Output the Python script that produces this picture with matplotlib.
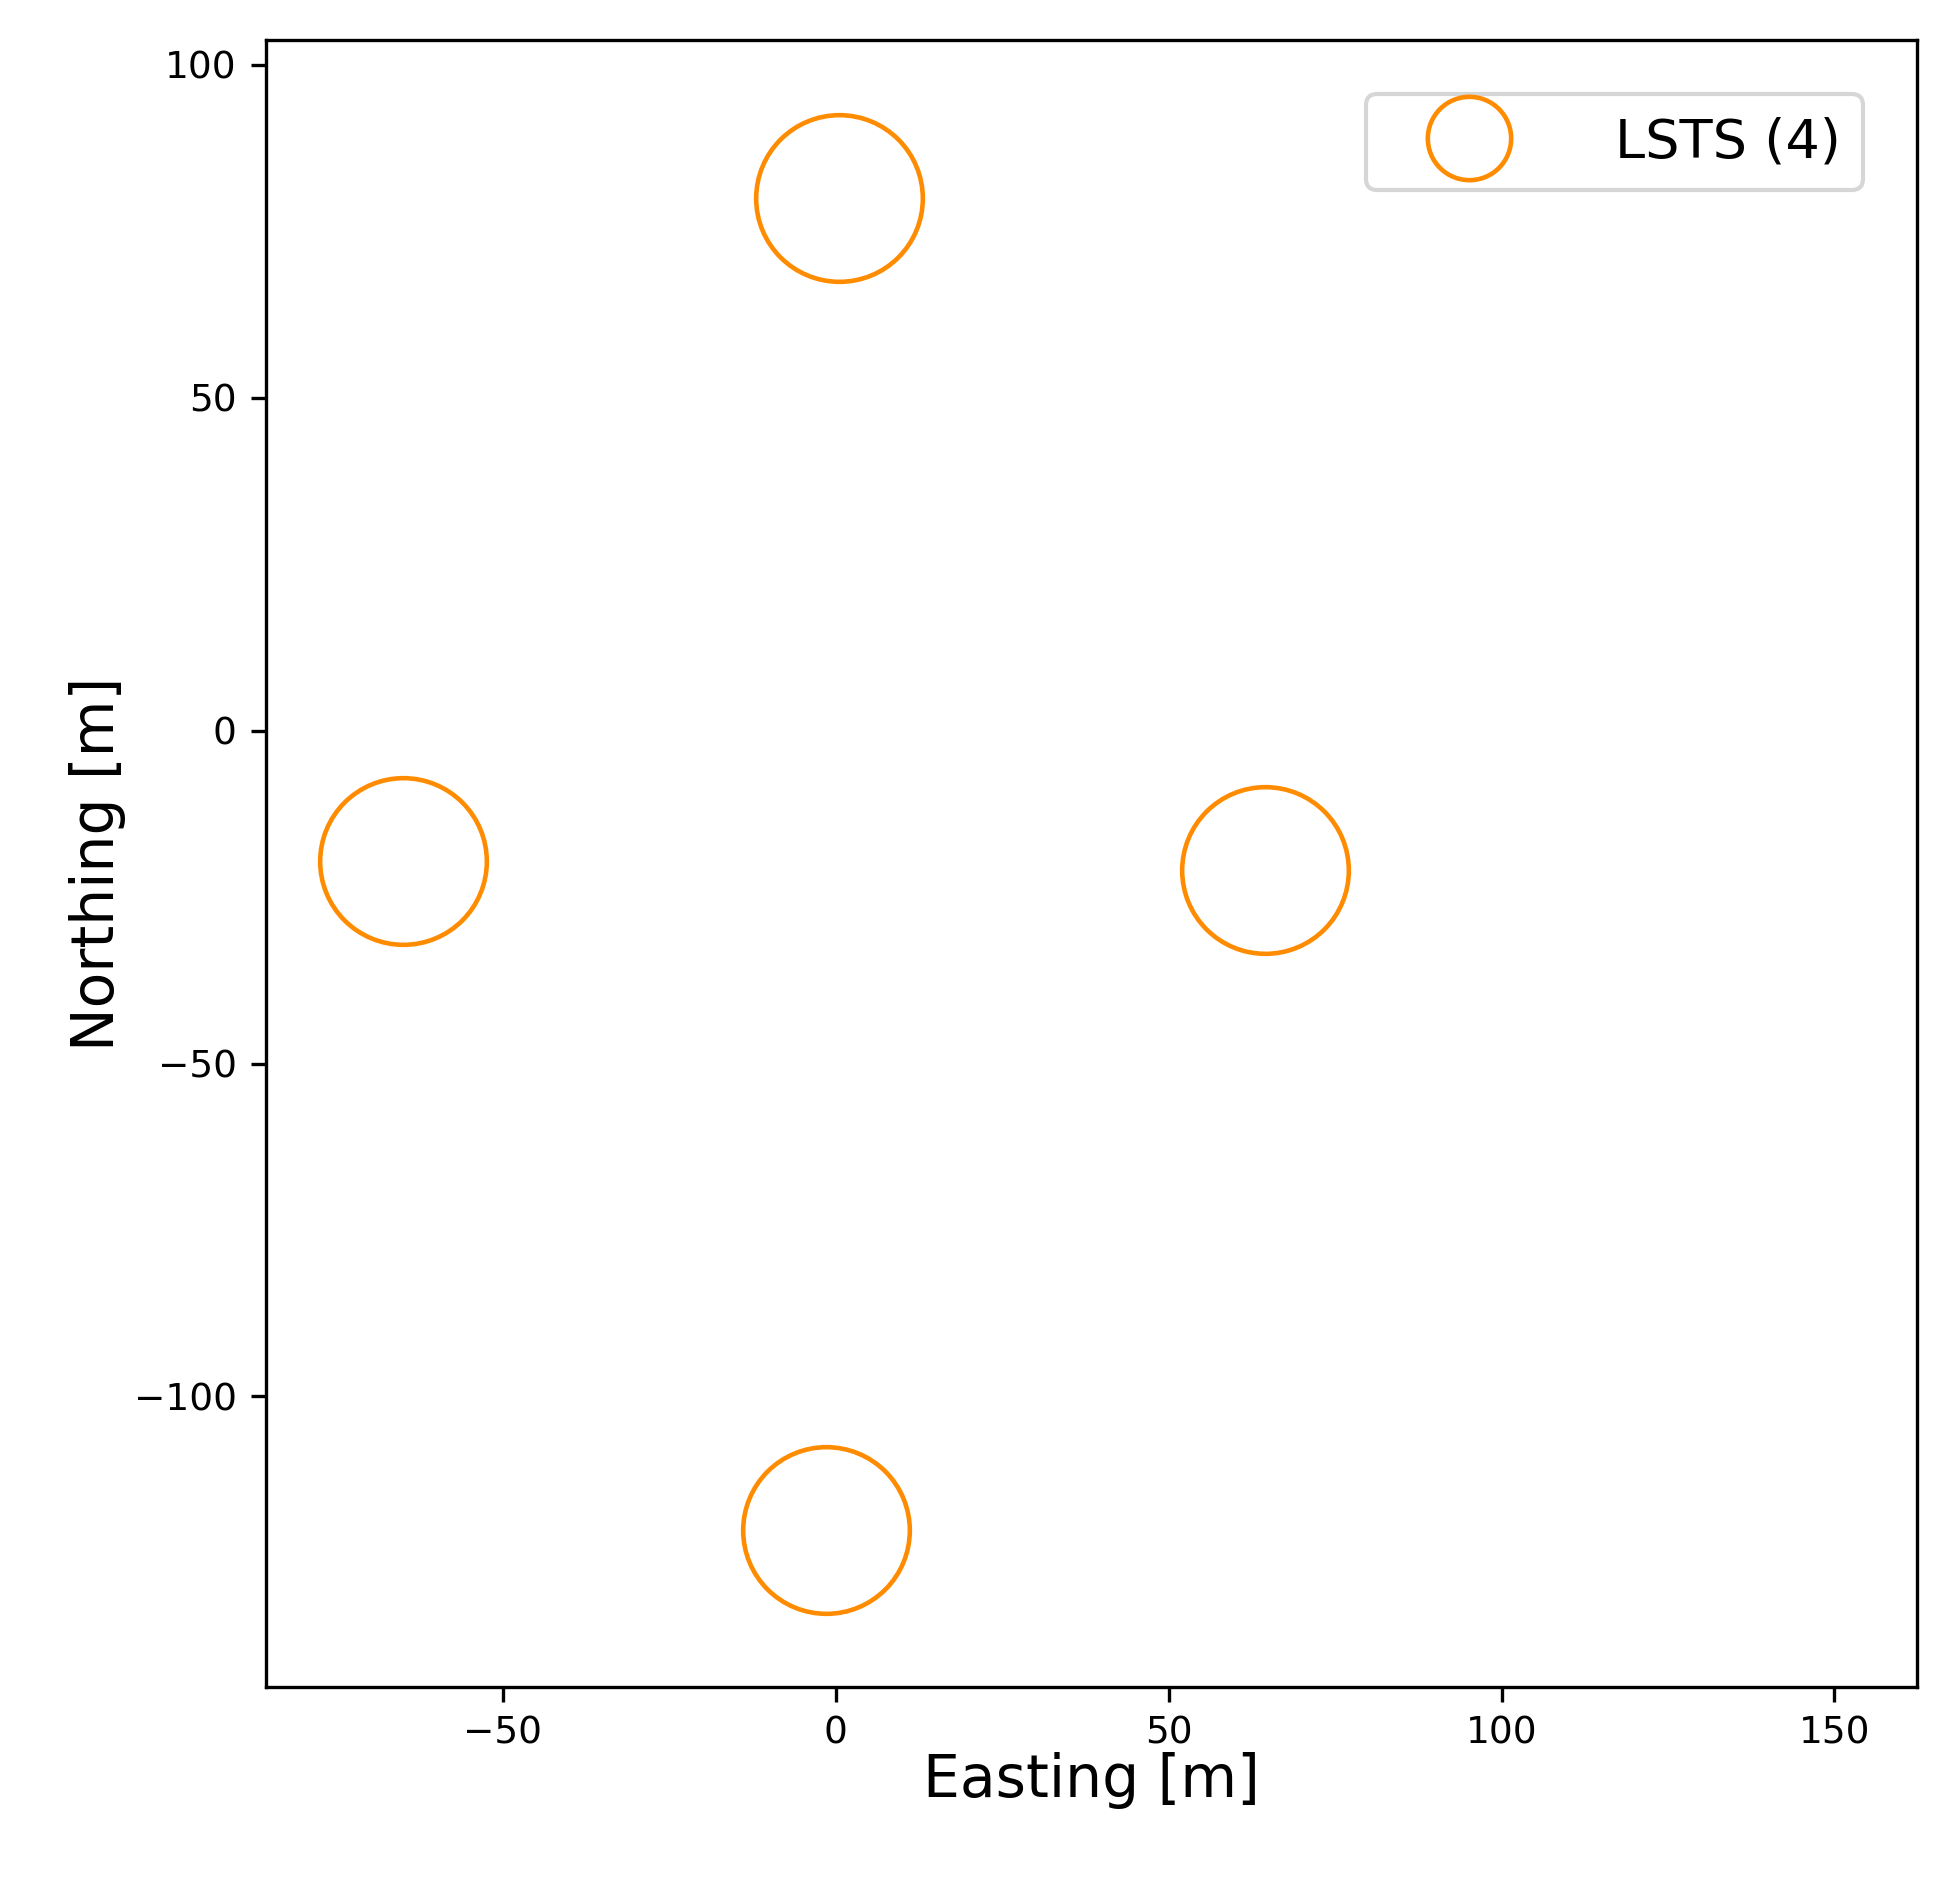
import matplotlib
matplotlib.use("Agg")
import matplotlib.pyplot as plt

easting = [0.5, -65, 64.5, -1.5]
northing = [80, -19.5, -21, -120]
label = "LSTS (4)"

fig = plt.figure(figsize=(1955/300, 1877/300), dpi=300)
ax = fig.add_axes([266/1955, 1-1687/1877, (1917-266)/1955, (1687-40)/1877])
ax.plot(easting, northing, 'o', ms=40, mfc='none', mec='darkorange', mew=1.1, label=label)
ax.set_xlim(-85.6, 162.4)
ax.set_ylim(-143.6, 103.7)
ax.set_aspect('equal')
ax.set_xticks([-50, 0, 50, 100, 150])
ax.set_yticks([-100, -50, 0, 50, 100])
ax.tick_params(labelsize=9)
ax.set_xlabel("Easting [m]", fontsize=14, labelpad=0)
ax.set_ylabel("Northing [m]", fontsize=14, labelpad=2)
ax.legend(loc='upper right', fontsize=13, markerscale=0.5, handlelength=3,
          handletextpad=1.2, borderaxespad=1.0)
fig.savefig("out.png", dpi=300)
